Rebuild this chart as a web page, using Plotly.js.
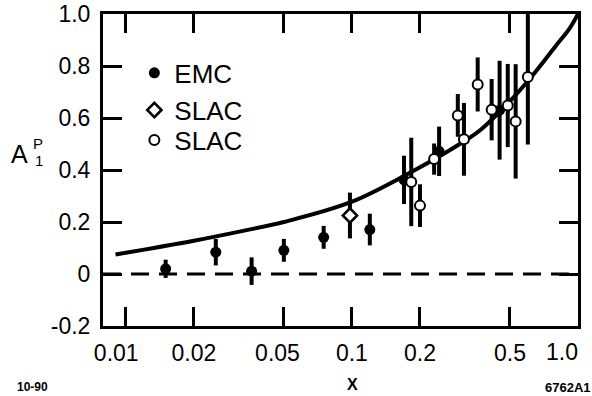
<!DOCTYPE html>
<html><head><meta charset="utf-8">
<script src="https://cdn.plot.ly/plotly-3.0.1.min.js"></script>
<style>html,body{margin:0;padding:0;background:#fff}#chart{width:592px;height:396px}</style>
</head><body><div id="chart"></div>
<script>
// EMC (filled circles)
const emcX   = [0.015, 0.025, 0.036, 0.05, 0.075, 0.12, 0.17, 0.243, 0.45];
const emcY   = [0.02, 0.084, 0.011, 0.091, 0.141, 0.171, 0.362, 0.472, 0.63];
const emcErr = [0.035, 0.051, 0.053, 0.044, 0.044, 0.061, 0.093, 0.095, 0.19];
// SLAC (open diamond)
const slacDX   = [0.098];
const slacDY   = [0.225];
const slacDErr = [0.088];
// SLAC (open circles)
const slacCX   = [0.183, 0.2, 0.231, 0.294, 0.313, 0.36, 0.415, 0.489, 0.53, 0.6];
const slacCY   = [0.354, 0.263, 0.442, 0.61, 0.518, 0.729, 0.632, 0.648, 0.587, 0.758];
const slacCErr = [0.17, 0.082, 0.06, 0.082, 0.14, 0.104, 0.118, 0.16, 0.22, 0.26];
// model curve
const curveX = [0.009, 0.02, 0.033, 0.05, 0.1, 0.19, 0.3, 0.37, 0.5, 0.62, 0.8, 0.92, 1.0];
const curveY = [0.075, 0.128, 0.166, 0.20, 0.278, 0.40, 0.50, 0.554, 0.665, 0.757, 0.879, 0.946, 1.0];
// ticks
const xTickVals = [0.01, 0.02, 0.05, 0.1, 0.2, 0.5, 1.0];
const xTickText = ['0.01', '0.02', '0.05', '0.1', '0.2', '0.5', '1.0'];
const yTickVals = [-0.2, 0, 0.2, 0.4, 0.6, 0.8, 1.0];
const yTickText = ['-0.2', '0', '0.2', '0.4', '0.6', '0.8', '1.0'];
const seriesNames = ['EMC', 'SLAC', 'SLAC'];

const FONT = 'Liberation Sans, Arial, Helvetica, sans-serif';
const errStyle = {type:'data', visible:true, thickness:4, width:0, color:'#000'};

// small left nudges of some x labels as in the original (non-breaking padding);
// the last label (at the right frame) is drawn right-aligned as an annotation
const NB = '\u00a0';
const xPad = [3, 0, 2, 0, 0, 0, 0];
const xTickShown = xTickText.map((t, i) => i === xTickText.length - 1 ? '' : t + NB.repeat(xPad[i]));

const traces = [
  {x: curveX, y: curveY, mode:'lines', line:{color:'#000', width:4, shape:'spline'}, showlegend:false, hoverinfo:'skip'},
  {x: emcX, y: emcY, name: seriesNames[0], mode:'markers', legend:'legend',
   error_y: Object.assign({array: emcErr}, errStyle),
   marker:{symbol:'circle', size:11, color:'#000', line:{width:0}}},
  {x: slacDX, y: slacDY, name: seriesNames[1], mode:'markers', legend:'legend2',
   error_y: Object.assign({array: slacDErr}, errStyle),
   marker:{symbol:'diamond', size:11, color:'#fff', line:{width:2.5, color:'#000'}}},
  {x: slacCX, y: slacCY, name: seriesNames[2], mode:'markers', legend:'legend3',
   error_y: Object.assign({array: slacCErr}, errStyle),
   marker:{symbol:'circle', size:10, color:'#fff', line:{width:2, color:'#000'}}}
];

const legendBase = {xanchor:'left', yanchor:'middle', bgcolor:'rgba(0,0,0,0)', borderwidth:0,
  font:{family:FONT, size:26, color:'#000'}, itemsizing:'trace'};

const layout = {
  width:592, height:396,
  margin:{l:103, r:14, t:14, b:70, pad:0},
  paper_bgcolor:'#fff', plot_bgcolor:'#fff',
  font:{family:FONT, color:'#000'},
  showlegend:true,
  legend: Object.assign({x:0.066, y:0.811}, legendBase),
  legend2: Object.assign({x:0.066, y:0.692}, legendBase),
  legend3: Object.assign({x:0.066, y:0.596}, legendBase),
  xaxis:{type:'log', range:[-2.101, 0], tickmode:'array', tickvals:xTickVals, ticktext:xTickShown,
    ticks:'inside', ticklen:19, tickwidth:3, tickcolor:'#000',
    showline:true, linewidth:3, linecolor:'#000', mirror:'ticks',
    showgrid:false, zeroline:false, ticklabelstandoff:4,
    tickfont:{family:FONT, size:23, color:'#000'}},
  yaxis:{range:[-0.2, 1.0], tickmode:'array', tickvals:yTickVals, ticktext:yTickText,
    ticks:'inside', ticklen:19, tickwidth:3, tickcolor:'#000',
    showline:true, linewidth:3, linecolor:'#000', mirror:'ticks',
    showgrid:false, zeroline:false, ticklabelstandoff:5,
    tickfont:{family:FONT, size:23, color:'#000'}},
  shapes:[{type:'line', xref:'paper', x0:0, x1:1, yref:'y', y0:0, y1:0,
    line:{color:'#000', width:3, dash:'18px,10px'}}],
  annotations:[
    {text: xTickText[xTickText.length - 1], xref:'x', yref:'paper',
     x: Math.log10(xTickVals[xTickVals.length - 1]), y:(326-352)/312, showarrow:false,
     xanchor:'right', yanchor:'middle', xshift:2, font:{family:FONT, size:23, color:'#000'}},
    {text:'A', xref:'paper', yref:'paper', x:(19.5-103)/475, y:(326-153.5)/312, showarrow:false,
     xanchor:'center', yanchor:'middle', font:{family:FONT, size:25, color:'#000'}},
    {text:'P', xref:'paper', yref:'paper', x:(37.5-103)/475, y:(326-143)/312, showarrow:false,
     xanchor:'center', yanchor:'middle', font:{family:FONT, size:15, color:'#000'}},
    {text:'1', xref:'paper', yref:'paper', x:(38.5-103)/475, y:(326-160)/312, showarrow:false,
     xanchor:'center', yanchor:'middle', font:{family:FONT, size:15, color:'#000'}},
    {text:'<b>X</b>', xref:'paper', yref:'paper', x:(352-103)/475, y:(326-384)/312, showarrow:false,
     xanchor:'center', yanchor:'middle', font:{family:FONT, size:16, color:'#000'}},
    {text:'<b>10-90</b>', xref:'paper', yref:'paper', x:(32-103)/475, y:(326-387)/312, showarrow:false,
     xanchor:'center', yanchor:'middle', font:{family:FONT, size:12, color:'#000'}},
    {text:'<b>6762A1</b>', xref:'paper', yref:'paper', x:(568-103)/475, y:(326-387)/312, showarrow:false,
     xanchor:'center', yanchor:'middle', font:{family:FONT, size:13, color:'#000'}}
  ]
};

Plotly.newPlot('chart', traces, layout, {displayModeBar:false, staticPlot:true});
</script></body></html>
